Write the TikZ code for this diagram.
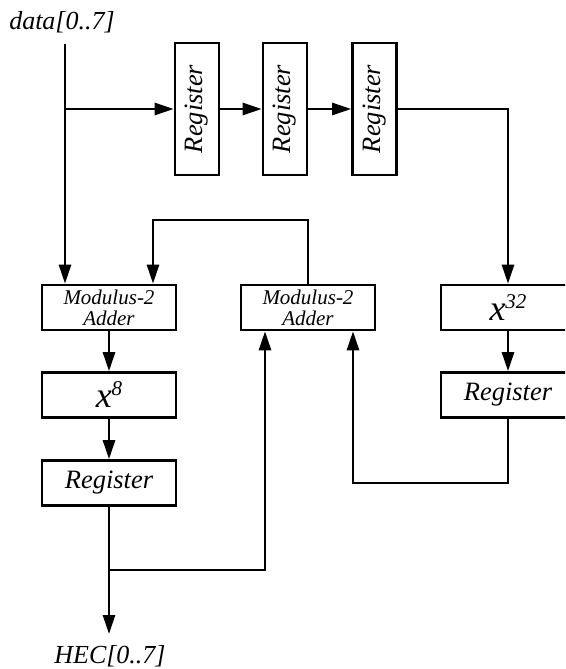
\documentclass[tikz,border=0pt]{standalone}
\usepackage{fontspec}
\setmainfont{Liberation Serif}
\usetikzlibrary{arrows.meta}
\newcommand{\xpow}[1]{{\fontsize{36}{36}\selectfont x\raisebox{12pt}{\fontsize{21}{21}\selectfont #1}}}
\tikzset{
  box/.style={draw, line width=2.6pt, inner sep=0pt, minimum width=134pt, minimum height=45pt, font=\itshape\fontsize{26.5}{26.5}\selectfont},
  vreg/.style={draw, line width=2.6pt, inner sep=0pt, minimum width=132pt, minimum height=44pt, rotate=90, font=\itshape\fontsize{26.5}{26.5}\selectfont},
  adder/.style={box, align=center, font=\itshape\fontsize{21}{21}\selectfont},
  lbl/.style={inner sep=0pt, font=\itshape\fontsize{26}{26}\selectfont},
  arr/.style={line width=2.6pt, -{Triangle[length=19pt,width=12pt]}}
}
\begin{document}
\begin{tikzpicture}[x=1pt,y=-1pt]
\useasboundingbox (0,0) rectangle (565,669);
\clip (0,0) rectangle (565,669);
% labels
\node[lbl] (data) at (62,22) {data[0..7]};
\node[lbl] (hec) at (110,656) {HEC[0..7]};
% top registers
\node[vreg] (r1) at (197,109) {Register};
\node[vreg] (r2) at (285,109) {Register};
\node[vreg] (r3) at (374.5,109) {Register};
% adders
\node[adder] (addL) at (109,307.5) {Modulus-2\\Adder};
\node[adder] (addM) at (308,307.5) {Modulus-2\\Adder};
% right column
\node[box] (x32) at (508,307.5) {\xpow{32}};
\node[box] (regR) at (508,395) {Register};
% left column
\node[box] (x8) at (109,395) {\xpow{8}};
\node[box] (regL) at (109,483) {Register};
% coordinates
\coordinate (dtop) at (65,44);
\coordinate (b1) at (65,109);
\coordinate (fb) at (308,220);
\coordinate (fb2) at (153,220);
\coordinate (j2) at (353,483);
\coordinate (j3) at (109,570);
\coordinate (j4) at (265,570);
\coordinate (tip) at (109,634);
% connectors
\draw[arr] (dtop) -- (dtop |- addL.north);
\draw[arr] (b1) -- (b1 -| r1.north);
\draw[arr] (r1.south) -- (r2.north);
\draw[arr] (r2.south) -- (r3.north);
\draw[arr] (r3.south) -| (x32.north);
\draw[arr] (x32) -- (regR);
\draw[arr] (regR.south) |- (j2) -- (j2 |- addM.south);
\draw[arr] (fb |- addM.north) -- (fb) -- (fb2) -- (fb2 |- addL.north);
\draw[arr] (addL) -- (x8);
\draw[arr] (x8) -- (regL);
\draw[arr] (regL.south) -- (tip);
\draw[arr] (j3) -- (j4) -- (j4 |- addM.south);
\end{tikzpicture}
\end{document}
